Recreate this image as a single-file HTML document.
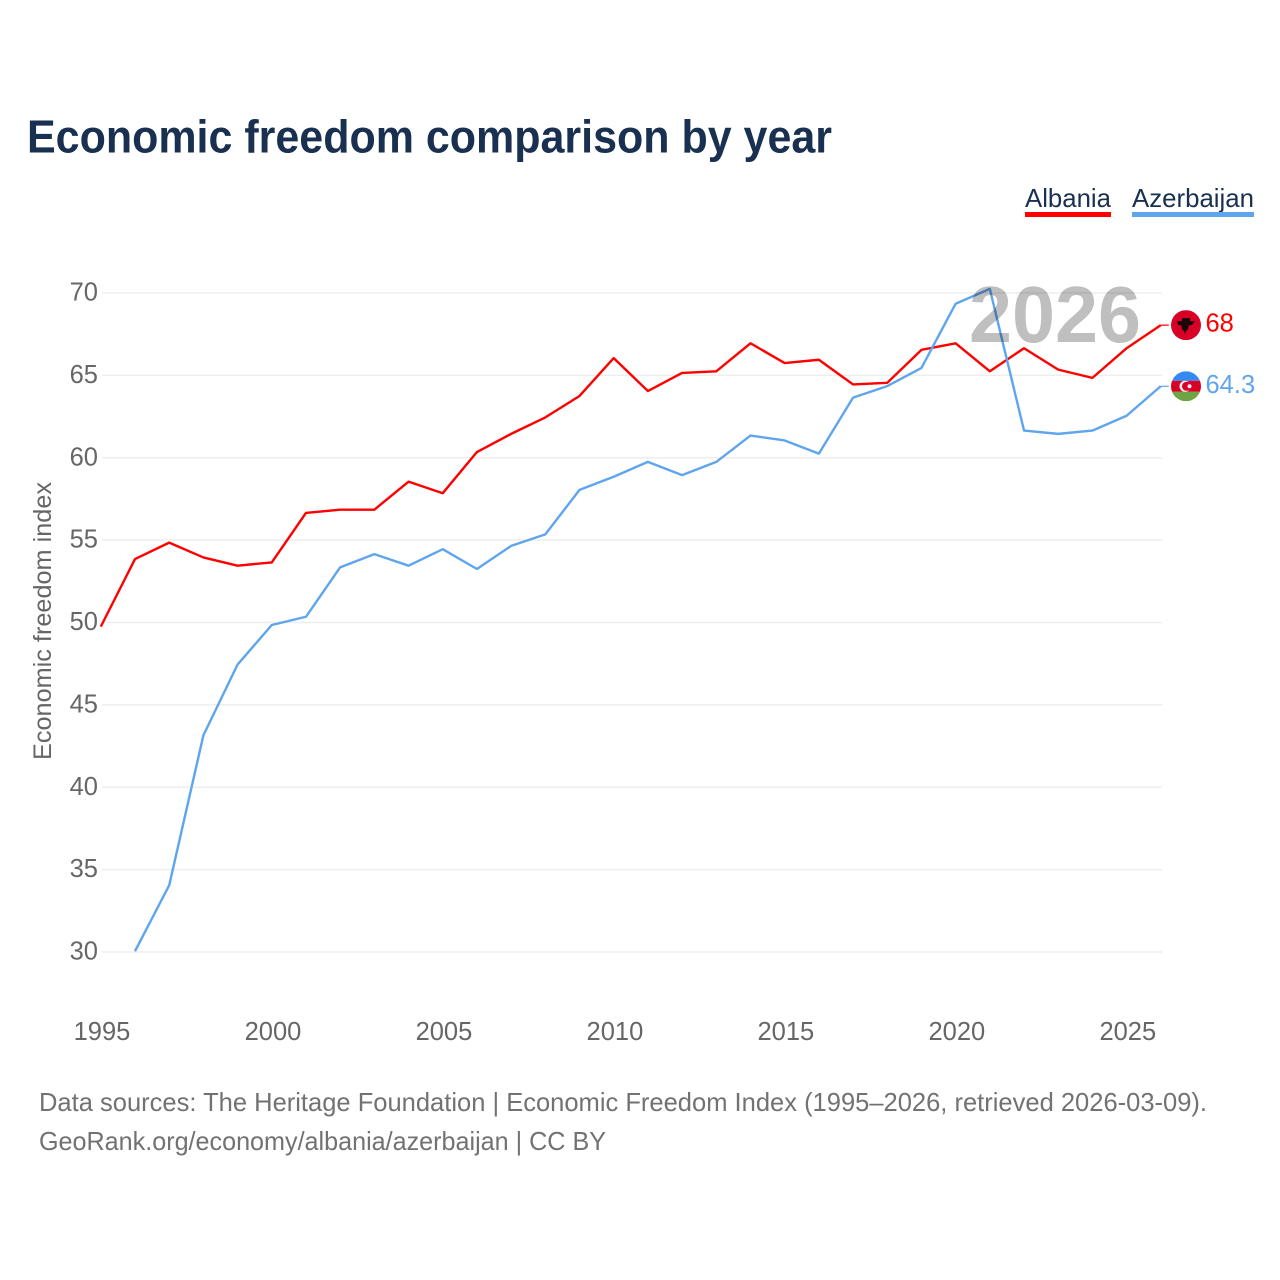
<!DOCTYPE html>
<html lang="en">
<head>
<meta charset="utf-8">
<title>Economic freedom comparison by year</title>
<style>
html,body{margin:0;padding:0;background:#fff;width:1280px;height:1280px;overflow:hidden}
svg{display:block;font-family:"Liberation Sans",sans-serif}
</style>
</head>
<body>
<svg id="chart" width="1280" height="1280" viewBox="0 0 1280 1280" xmlns="http://www.w3.org/2000/svg">
  <defs>
    <clipPath id="clip-al"><circle id="clip-al-c" r="15"></circle></clipPath>
    <clipPath id="clip-az"><circle id="clip-az-c" r="15"></circle></clipPath>
  </defs>
  <text x="27" y="152.5" font-size="46" font-weight="700" fill="#1a3050" textLength="805" lengthAdjust="spacingAndGlyphs">Economic freedom comparison by year</text>

  <g>
    <text x="1025" y="207" font-size="26" fill="#1a3050" textLength="86" lengthAdjust="spacingAndGlyphs">Albania</text>
    <rect x="1025" y="212" width="86" height="5" fill="#ff0000"></rect>
  </g>
  <g>
    <text x="1132" y="207" font-size="26" fill="#1a3050" textLength="122" lengthAdjust="spacingAndGlyphs">Azerbaijan</text>
    <rect x="1132" y="212" width="122" height="5" fill="#5fa5ee"></rect>
  </g>

  <g id="grid"></g>
  <g id="y-ticks"></g>
  <g id="x-ticks"></g>
  <text transform="translate(51 621) rotate(-90)" text-anchor="middle" font-size="25" fill="#666666" textLength="278" lengthAdjust="spacingAndGlyphs">Economic freedom index</text>

  <g id="series" transform="translate(-1.2 -0.8)"></g>
  <text x="969" y="342" font-size="80" font-weight="700" fill="#000000" fill-opacity="0.25" textLength="172" lengthAdjust="spacingAndGlyphs">2026</text>
  <g id="end-markers"></g>

  <text x="39" y="1111" font-size="26" fill="#727272" textLength="1168" lengthAdjust="spacingAndGlyphs">Data sources: The Heritage Foundation | Economic Freedom Index (1995–2026, retrieved 2026-03-09).</text>
  <text x="39" y="1150" font-size="26" fill="#727272" textLength="567" lengthAdjust="spacingAndGlyphs">GeoRank.org/economy/albania/azerbaijan | CC BY</text>
</svg>
<script>
const years = [1995,1996,1997,1998,1999,2000,2001,2002,2003,2004,2005,2006,2007,2008,2009,2010,2011,2012,2013,2014,2015,2016,2017,2018,2019,2020,2021,2022,2023,2024,2025,2026];
const albania = [49.7,53.8,54.8,53.9,53.4,53.6,56.6,56.8,56.8,58.5,57.8,60.3,61.4,62.4,63.7,66.0,64.0,65.1,65.2,66.9,65.7,65.9,64.4,64.5,66.5,66.9,65.2,66.6,65.3,64.8,66.6,68.0];
const azerbaijan = [null,30.0,34.0,43.1,47.4,49.8,50.3,53.3,54.1,53.4,54.4,53.2,54.6,55.3,58.0,58.8,59.7,58.9,59.7,61.3,61.0,60.2,63.6,64.3,65.4,69.3,70.2,61.6,61.4,61.6,62.5,64.3];
const yTickValues = [30,35,40,45,50,55,60,65,70];
const xTickValues = [1995,2000,2005,2010,2015,2020,2025];

const NS = 'http://www.w3.org/2000/svg';
const xScale = function (year) { return 102 + (year - 1995) * (1060 / 31); };
const yScale = function (value) { return 952 - (value - 30) * (659 / 40); };

function make(tag, attrs, parent) {
  const el = document.createElementNS(NS, tag);
  Object.keys(attrs).forEach(function (k) { el.setAttribute(k, attrs[k]); });
  parent.appendChild(el);
  return el;
}

const grid = document.getElementById('grid');
const yTicks = document.getElementById('y-ticks');
yTickValues.forEach(function (v) {
  const line = make('line', {x1: 102, x2: 1162, y1: yScale(v), y2: yScale(v), stroke: '#eeeeee', 'stroke-width': 1.6}, grid);
  
  
  const label = make('text', {x: 98, y: yScale(v) + 7.5, 'text-anchor': 'end', 'font-size': 25.5, fill: '#666666'}, yTicks);
  
  
  label.textContent = v;
});

const xTicks = document.getElementById('x-ticks');
xTickValues.forEach(function (v) {
  const label = make('text', {x: xScale(v), y: 1040, 'text-anchor': 'middle', 'font-size': 25.5, fill: '#666666'}, xTicks);
  
  
  label.textContent = v;
});

function linePoints(values) {
  const pts = [];
  values.forEach(function (v, i) {
    if (v !== null) { pts.push(xScale(years[i]).toFixed(2) + ',' + yScale(v).toFixed(2)); }
  });
  return pts.join(' ');
}

const seriesGroup = document.getElementById('series');
const albaniaLine = make('polyline', {points: linePoints(albania), fill: 'none', stroke: '#ff0000', 'stroke-width': 2.4, 'stroke-linejoin': 'round'}, seriesGroup);


const azerbaijanLine = make('polyline', {points: linePoints(azerbaijan), fill: 'none', stroke: '#5fa5ee', 'stroke-width': 2.4, 'stroke-linejoin': 'round'}, seriesGroup);



const markers = document.getElementById('end-markers');
const lastX = xScale(years[years.length - 1]);
const alVal = albania[albania.length - 1];
const azVal = azerbaijan[azerbaijan.length - 1];
const alY = yScale(alVal) - 0.8;
const azY = yScale(azVal) - 0.6;
const flagX = lastX + 24;

const alStub = make('line', {x1: lastX - 1.2, x2: lastX + 6.8, y1: alY, y2: alY, stroke: '#ff0000', 'stroke-width': 1.2}, markers);


const azStub = make('line', {x1: lastX - 1.2, x2: lastX + 6.8, y1: azY, y2: azY, stroke: '#5fa5ee', 'stroke-width': 1.2}, markers);



document.getElementById('clip-al-c').setAttribute('cx', flagX);
document.getElementById('clip-al-c').setAttribute('cy', alY);
document.getElementById('clip-az-c').setAttribute('cx', flagX);
document.getElementById('clip-az-c').setAttribute('cy', azY);

const alFlag = make('g', {'clip-path': 'url(#clip-al)'}, markers);


make('rect', {x: flagX - 15, y: alY - 15, width: 30, height: 30, fill: '#d80027'}, alFlag);
make('path', {d: 'M' + (flagX - 9) + ' ' + (alY - 4) + 'h5v-3h8v3h5l-3 4h-3l-1 4-2 2-1 3-1-3-2-2-1-4h-3z', fill: '#1a0508'}, alFlag);

const azFlag = make('g', {'clip-path': 'url(#clip-az)'}, markers);


make('rect', {x: flagX - 15, y: azY - 15, width: 30, height: 9.5, fill: '#338af3'}, azFlag);
make('rect', {x: flagX - 15, y: azY - 5.5, width: 30, height: 11, fill: '#d80027'}, azFlag);
make('rect', {x: flagX - 15, y: azY + 5.5, width: 30, height: 9.5, fill: '#6da544'}, azFlag);
make('circle', {cx: flagX - 1, cy: azY, r: 5.5, fill: '#f0f0f0'}, azFlag);
make('circle', {cx: flagX + 0.5, cy: azY, r: 4.5, fill: '#d80027'}, azFlag);
make('circle', {cx: flagX + 3.5, cy: azY, r: 2, fill: '#f0f0f0'}, azFlag);

const alValue = make('text', {x: lastX + 43.5, y: alY + 6.5, 'font-size': 25.5, fill: '#ff0000'}, markers);


alValue.textContent = String(alVal);
const azValue = make('text', {x: lastX + 43.5, y: azY + 6.5, 'font-size': 25.5, fill: '#5fa5ee'}, markers);


azValue.textContent = String(azVal);
</script>
</body>
</html>
